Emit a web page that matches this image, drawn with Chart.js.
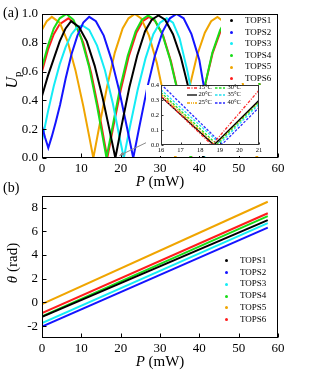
<!DOCTYPE html>
<html><head><meta charset="utf-8">
<script src="https://cdn.jsdelivr.net/npm/chart.js@4.4.0/dist/chart.umd.min.js"></script>
<style>
html,body{margin:0;padding:0;background:#fff;}
#wrap{position:relative;width:330px;height:370px;overflow:hidden;font-family:"Liberation Serif","Times New Roman",serif;color:#000;background:#fff;}
canvas{position:absolute;}
.abs{position:absolute;}
.lbl{position:absolute;white-space:nowrap;line-height:1;}
.row{position:absolute;white-space:nowrap;}
.mk{position:absolute;width:3px;height:3px;border-radius:50%;}
</style></head><body>
<div id="wrap">
  <canvas id="cA" width="330" height="186" style="left:0;top:0"></canvas>
  <canvas id="cB" width="330" height="186" style="left:0;top:184px"></canvas>
  <div class="abs" style="left:221px;top:15px;width:56px;height:68px;background:#fff"></div>
  <canvas id="cI" width="118" height="77" style="left:146px;top:79px"></canvas>
  <div id="legI"></div>
  <div id="legA"></div>
  <div id="legB"></div>
  <div class="lbl" style="left:3px;top:6px;font-size:14px">(a)</div>
  <div class="lbl" style="left:3px;top:181px;font-size:14px">(b)</div>
  <div class="lbl" style="left:12px;top:80px;font-size:16px;transform:translate(-50%,-50%) rotate(-90deg)"><i>U</i><span style="font-size:11px;position:relative;top:4px">p</span></div>
  <div class="lbl" style="left:160px;top:181px;font-size:15px;transform:translate(-50%,-50%)"><i>P</i> (mW)</div>
  <div class="lbl" style="left:12px;top:263px;font-size:15px;transform:translate(-50%,-50%) rotate(-90deg)"><i>θ</i> (rad)</div>
  <div class="lbl" style="left:160px;top:361px;font-size:15px;transform:translate(-50%,-50%)"><i>P</i> (mW)</div>
</div>
<script>
// ---------- data: panel (a) ----------
const seriesNames = ['TOPS1','TOPS2','TOPS3','TOPS4','TOPS5','TOPS6'];

const P_TOPS1 = [0,1.5,3,4.5,6,7.4,9.4,11.4,13.4,15.4,17.2,18.65,20.2,22.2,24.2,26.2,27.9,29.6,31.3,33.3,35.3,37.3,39.3,41.0,41.6];
const U_TOPS1 = [0.43,0.57,0.69,0.81,0.90,0.95,0.91,0.81,0.64,0.42,0.19,0,0.22,0.49,0.71,0.88,0.96,0.99,0.96,0.86,0.70,0.48,0.23,0,0.08];

const P_TOPS2 = [0,0.8,1.6,2.5,3.5,4.6,6,7.5,9,10.5,12,13.7,15.7,17.7,19.7,21.7,23.2,24.7,26.7,28.7,30.7,32.5,34.2,36,38,40,42,43.8,45];
const U_TOPS2 = [0.22,0.14,0.07,0.15,0.25,0.37,0.55,0.72,0.85,0.94,0.98,0.95,0.85,0.68,0.46,0.20,0,0.21,0.48,0.71,0.88,0.97,1.0,0.97,0.86,0.68,0.36,0.13,0.03];

const P_TOPS3 = [0,1.5,3,4.5,6,7.5,9,10.3,12,14,16,18,19.6,20.8,22.3,24.3,26.3,28.3,30,31.7,33.3,35,37,39,40.3,41.2,42.5];
const U_TOPS3 = [0.12,0.32,0.50,0.65,0.77,0.86,0.91,0.92,0.89,0.78,0.61,0.38,0.16,0,0.21,0.47,0.69,0.86,0.94,0.97,0.94,0.83,0.60,0.32,0.13,0,0.18];

const P_TOPS4 = [0,1.5,3,4.5,6.2,8,10,12,14,15.4,16.4,17.8,19.8,21.8,23.8,25.4,27,28.6,30.6,32.6,34.6,36.4,37.8,39.3,41.3,43.3,45.3,47,48.4,50.4,52.4,54.4,55.5];
const U_TOPS4 = [0.63,0.78,0.90,0.97,1.0,0.96,0.83,0.63,0.36,0.15,0,0.20,0.48,0.71,0.88,0.96,0.99,0.96,0.86,0.68,0.45,0.20,0,0.22,0.49,0.73,0.89,0.97,0.99,0.95,0.82,0.62,0.49];

const P_TOPS5 = [0,1.2,2.5,4.5,6.5,8.5,10.5,12,13.05,14.5,16.5,18.5,20.5,22,23.6,25.2,27.2,29.2,31.2,32.7,33.9,35.4,37.4,39.4,41.4,43,44.6,46.5,48.5,50.5,52.5,54.6,55.5];
const U_TOPS5 = [0.89,0.95,0.98,0.94,0.81,0.61,0.36,0.15,0,0.21,0.49,0.73,0.90,0.97,1.0,0.97,0.85,0.66,0.40,0.18,0,0.21,0.48,0.71,0.87,0.95,0.98,0.94,0.80,0.59,0.32,0,0.09];

const P_TOPS6 = [0,1.5,3,4.5,6.7,8.5,10.5,12.5,14.5,15.8,16.6,18,20,22,24,25.6,27.2,28.8,30.8,32.8,34.8,36.6,37.9,39.4,41.4,43.4,45.4,47,48.5,50.5,52.5,54.5,55.5];
const U_TOPS6 = [0.60,0.75,0.86,0.93,0.97,0.93,0.80,0.59,0.32,0.12,0,0.20,0.47,0.70,0.87,0.95,0.98,0.95,0.85,0.67,0.43,0.19,0,0.22,0.50,0.73,0.88,0.96,0.98,0.94,0.81,0.61,0.49];

const xTicksA = [0,10,20,30,40,50,60];
const yTicksA = [0,0.2,0.4,0.6,0.8,1.0];

// ---------- data: inset ----------
const insetNames = ['15°C','20°C','25°C','30°C','35°C','40°C'];
const insetP_15 = [16,18.6,21];   const insetU_15 = [0.325,0,0.365];
const insetP_20 = [16,18.7,21];   const insetU_20 = [0.322,0,0.298];
const insetP_25 = [16,18.75,21];  const insetU_25 = [0.338,0.003,0.292];
const insetP_30 = [16,18.85,21];  const insetU_30 = [0.350,0.005,0.285];
const insetP_35 = [16,19.0,21];   const insetU_35 = [0.368,0.01,0.272];
const insetP_40 = [16,19.12,21];  const insetU_40 = [0.405,0.005,0.250];
const xTicksI = [16,17,18,19,20,21];
const yTicksI = [0,0.1,0.2,0.3,0.4];

// ---------- data: panel (b) ----------
const P_B = [0,57.4];
const theta_TOPS1 = [-1.22,6.95];
const theta_TOPS2 = [-2.03,6.32];
const theta_TOPS3 = [-1.75,6.70];
const theta_TOPS4 = [-1.17,7.28];
const theta_TOPS5 = [-0.14,8.50];
const theta_TOPS6 = [-0.89,7.53];
const xTicksB = [0,10,20,30,40,50,60];
const yTicksB = [-2,0,2,4,6,8];

// ---------- styles ----------
const seriesColors = ['#000000','#1414ff','#14ecf5','#18dd18','#f0a500','#ff1c1c'];
const insetColors = ['#ff2a2a','#000000','#f0a500','#22dd22','#22e0f0','#2a2aff'];
const insetDash = [[3,1.5,1,1.5],[],[3,1,1,1,1,1],[2.5,1.5],[2.5,1.5],[2.5,1.5]];
const FONT = '"Liberation Serif","Times New Roman",serif';

function pts(xs, ys){ return xs.map((x,i)=>({x:x, y:ys[i]})); }

const framePlugin = {
  id:'frame',
  afterDatasetsDraw(chart, args, o){
    const {ctx, chartArea:a} = chart;
    const x = chart.scales.x, y = chart.scales.y;
    ctx.save();
    ctx.strokeStyle = o.color || '#000';
    ctx.lineWidth = o.lineWidth || 1;
    const L = Math.round(a.left)+0.5, R = Math.round(a.right)-0.5, T = Math.round(a.top)+0.5, B = Math.round(a.bottom)-0.5;
    ctx.strokeRect(L, T, R-L, B-T);
    ctx.beginPath();
    x.ticks.forEach(t=>{ const px = Math.round(x.getPixelForValue(t.value))+0.5; ctx.moveTo(px,B); ctx.lineTo(px,B-o.tick); });
    y.ticks.forEach(t=>{ const py = Math.round(y.getPixelForValue(t.value))+0.5; ctx.moveTo(L,py); ctx.lineTo(L+o.tick,py); });
    ctx.stroke();
    ctx.restore();
  }
};

const arrowPlugin = {
  id:'arrowA',
  afterDatasetsDraw(chart){
    const {ctx} = chart; const x = chart.scales.x, y = chart.scales.y;
    const x0 = x.getPixelForValue(30.0), y0 = y.getPixelForValue(0.153);
    const x1 = x.getPixelForValue(19.7), y1 = y.getPixelForValue(0.017);
    ctx.save();
    ctx.strokeStyle = '#8a8a8a'; ctx.fillStyle = '#8a8a8a'; ctx.lineWidth = 1;
    ctx.beginPath(); ctx.moveTo(x0,y0); ctx.lineTo(x1,y1); ctx.stroke();
    const ang = Math.atan2(y1-y0, x1-x0), h = 5;
    ctx.beginPath();
    ctx.moveTo(x1,y1);
    ctx.lineTo(x1 - h*Math.cos(ang-0.4), y1 - h*Math.sin(ang-0.4));
    ctx.lineTo(x1 - h*Math.cos(ang+0.4), y1 - h*Math.sin(ang+0.4));
    ctx.closePath(); ctx.fill();
    ctx.restore();
  }
};

const whiteFill = {
  id:'whiteFill',
  beforeDraw(chart){
    const {ctx, chartArea:a, width, height} = chart;
    ctx.save(); ctx.fillStyle = '#fff';
    ctx.fillRect(0, Math.round(a.top), width, height - Math.round(a.top));
    ctx.restore();
  }
};

function makeScales(o){
  return {
    x:{type:'linear', min:o.xmin, max:o.xmax,
       afterBuildTicks:s=>{ s.ticks = o.xt.map(v=>({value:v})); },
       afterFit:s=>{ s.height = o.xh; },
       grid:{display:false, drawTicks:false}, border:{display:false},
       ticks:{font:{family:FONT, size:o.fs}, color:'#000', padding:o.xpad, maxRotation:0, autoSkip:false,
              callback:v=>String(v)}},
    y:{type:'linear', min:o.ymin, max:o.ymax,
       afterBuildTicks:s=>{ s.ticks = o.yt.map(v=>({value:v})); },
       afterFit:s=>{ s.width = o.yw; },
       grid:{display:false, drawTicks:false}, border:{display:false},
       ticks:{font:{family:FONT, size:o.fs}, color:'#000', padding:o.ypad, autoSkip:false,
              callback:o.yfmt}}
  };
}

// ---------- chart (a) ----------
const P_A = [P_TOPS1,P_TOPS2,P_TOPS3,P_TOPS4,P_TOPS5,P_TOPS6];
const U_A = [U_TOPS1,U_TOPS2,U_TOPS3,U_TOPS4,U_TOPS5,U_TOPS6];
new Chart(document.getElementById('cA'), {
  type:'scatter',
  data:{datasets: seriesNames.map((n,i)=>({label:n, data:pts(P_A[i],U_A[i]), showLine:true,
        borderColor:seriesColors[i], backgroundColor:seriesColors[i], borderWidth:2, pointRadius:0, fill:false}))},
  options:{
    responsive:false, animation:false, events:[],
    layout:{padding:{left:0,right:52,top:14,bottom:8}},
    plugins:{legend:{display:false}, tooltip:{enabled:false}, frame:{color:'#000', lineWidth:1, tick:4}},
    scales: makeScales({xmin:0,xmax:60,ymin:0,ymax:1,xt:xTicksA,yt:yTicksA,xh:20,yw:42,fs:13,xpad:3,ypad:4,
                        yfmt:v=>Number(v).toFixed(1)})
  },
  plugins:[framePlugin, arrowPlugin]
});

// ---------- inset ----------
const P_I = [insetP_15,insetP_20,insetP_25,insetP_30,insetP_35,insetP_40];
const U_I = [insetU_15,insetU_20,insetU_25,insetU_30,insetU_35,insetU_40];
new Chart(document.getElementById('cI'), {
  type:'scatter',
  data:{datasets: insetNames.map((n,i)=>({label:n, data:pts(P_I[i],U_I[i]), showLine:true,
        borderColor:insetColors[i], borderDash:insetDash[i], borderWidth:1.3, pointRadius:0, fill:false}))},
  options:{
    responsive:false, animation:false, events:[],
    layout:{padding:{left:0,right:5,top:4,bottom:3}},
    plugins:{legend:{display:false}, tooltip:{enabled:false}, frame:{color:'#333', lineWidth:1, tick:2}},
    scales: makeScales({xmin:16,xmax:21,ymin:0,ymax:0.4,xt:xTicksI,yt:yTicksI,xh:8,yw:15,fs:6.5,xpad:1,ypad:2,
                        yfmt:v=>Number(v).toFixed(1)})
  },
  plugins:[whiteFill, framePlugin]
});

// ---------- chart (b) ----------
const TH_B = [theta_TOPS1,theta_TOPS2,theta_TOPS3,theta_TOPS4,theta_TOPS5,theta_TOPS6];
new Chart(document.getElementById('cB'), {
  type:'scatter',
  data:{datasets: seriesNames.map((n,i)=>({label:n, data:pts(P_B,TH_B[i]), showLine:true,
        borderColor:seriesColors[i], backgroundColor:seriesColors[i], borderWidth:2, pointRadius:0, fill:false}))},
  options:{
    responsive:false, animation:false, events:[],
    layout:{padding:{left:0,right:52,top:9,bottom:12}},
    plugins:{legend:{display:false}, tooltip:{enabled:false}, frame:{color:'#000', lineWidth:1, tick:4}},
    scales: makeScales({xmin:0,xmax:60,ymin:-3,ymax:9,xt:xTicksB,yt:yTicksB,xh:20,yw:42,fs:13,xpad:3,ypad:4,
                        yfmt:v=>String(v)})
  },
  plugins:[framePlugin]
});

// ---------- legends (HTML) ----------
function buildLegend(id, left, top0, step, mkLeft, txtLeft){
  const root = document.getElementById(id);
  seriesNames.forEach((n,i)=>{
    const r = document.createElement('div');
    r.className = 'row';
    r.style.cssText = `left:${left}px;top:${top0+step*i-step/2}px;height:${step}px;line-height:${step}px;font-size:9px;width:60px;`;
    const m = document.createElement('span');
    m.className = 'mk';
    m.style.cssText = `left:${mkLeft}px;top:${step/2-1.5}px;background:${seriesColors[i]};`;
    const t = document.createElement('span');
    t.style.cssText = `position:absolute;left:${txtLeft}px;top:0;`;
    t.textContent = n;
    r.appendChild(m); r.appendChild(t); root.appendChild(r);
  });
}
buildLegend('legA', 228, 20.7, 11.6, 2.2, 17);
buildLegend('legB', 224, 260.7, 11.8, 1.2, 16);

(function(){
  const root = document.getElementById('legI');
  const cols = [{line:187,txt:198.5},{line:215,txt:227.5}];
  const rows = [87.5,95,102.5];
  insetNames.forEach((n,i)=>{
    const c = cols[Math.floor(i/3)], yc = rows[i%3];
    const svgNS='http://www.w3.org/2000/svg';
    const svg = document.createElementNS(svgNS,'svg');
    svg.setAttribute('width','10'); svg.setAttribute('height','4');
    svg.style.cssText = `position:absolute;left:${c.line}px;top:${yc-2}px;`;
    const ln = document.createElementNS(svgNS,'line');
    ln.setAttribute('x1','0'); ln.setAttribute('y1','2'); ln.setAttribute('x2','10'); ln.setAttribute('y2','2');
    ln.setAttribute('stroke', insetColors[i]); ln.setAttribute('stroke-width','1.3');
    if(insetDash[i].length) ln.setAttribute('stroke-dasharray', insetDash[i].join(' '));
    svg.appendChild(ln); root.appendChild(svg);
    const t = document.createElement('div');
    t.className='lbl';
    t.style.cssText = `left:${c.txt}px;top:${yc-3.6}px;font-size:6.5px;`;
    t.textContent = n;
    root.appendChild(t);
  });
})();
</script>
</body></html>
